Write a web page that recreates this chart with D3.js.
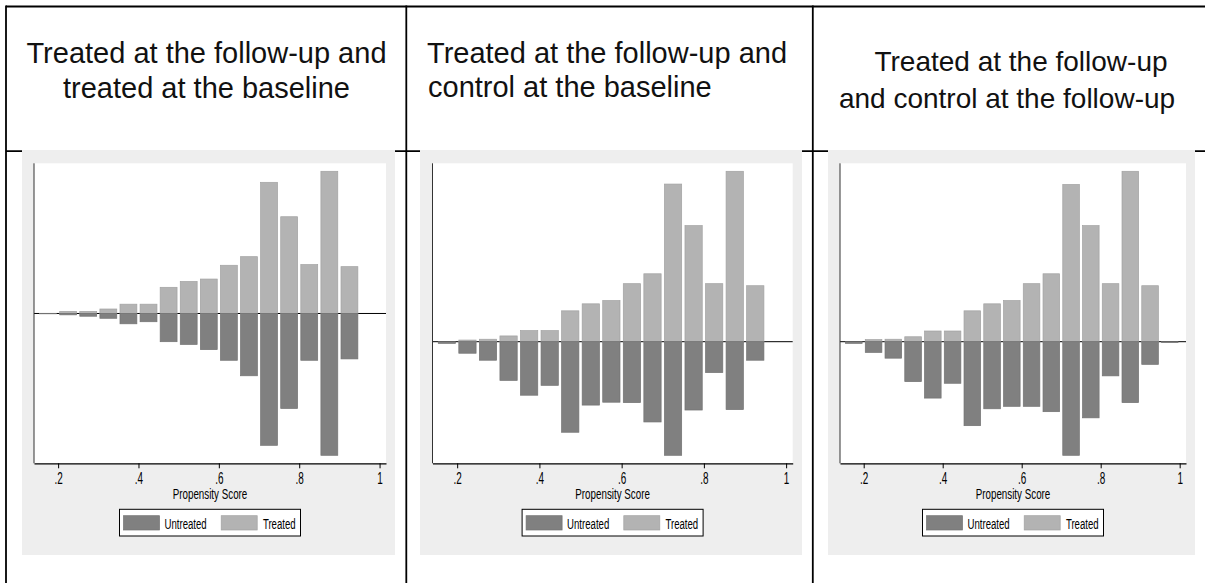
<!DOCTYPE html>
<html>
<head>
<meta charset="utf-8">
<script src="https://cdn.jsdelivr.net/npm/d3@7"></script>
<style>
  body { margin: 0; background: #fff; }
  svg { display: block; font-family: "Liberation Sans", Arial, sans-serif; }
</style>
</head>
<body>
<div id="chart"></div>
<script>
// bin centres of the propensity score histograms (width .05)
const binsAB = [0.175, 0.225, 0.275, 0.325, 0.375, 0.425, 0.475, 0.525, 0.575, 0.625, 0.675, 0.725, 0.775, 0.825, 0.875, 0.925];
const binsC = [0.175, 0.225, 0.275, 0.325, 0.375, 0.425, 0.475, 0.525, 0.575, 0.625, 0.675, 0.725, 0.775, 0.825, 0.875, 0.925, 0.975];

// densities
const treatedA   = [0, 0.06, 0.06, 0.13, 0.27, 0.27, 0.76, 0.93, 1.00, 1.40, 1.65, 3.81, 2.81, 1.42, 4.13, 1.36];
const untreatedA = [0.01, 0.04, 0.08, 0.14, 0.30, 0.24, 0.82, 0.90, 1.05, 1.36, 1.81, 3.83, 2.76, 1.36, 4.12, 1.32];

const treatedB   = [0, 0.04, 0.06, 0.14, 0.27, 0.27, 0.75, 0.92, 1.00, 1.41, 1.65, 3.83, 2.82, 1.41, 4.14, 1.36];
const untreatedB = [0.04, 0.28, 0.45, 0.94, 1.30, 1.06, 2.20, 1.54, 1.47, 1.48, 1.95, 2.76, 1.66, 0.75, 1.65, 0.45];

const treatedC   = [0, 0.05, 0.06, 0.12, 0.26, 0.26, 0.75, 0.92, 1.00, 1.41, 1.65, 3.82, 2.82, 1.41, 4.14, 1.36, 0];
const untreatedC = [0.04, 0.26, 0.40, 0.97, 1.37, 1.01, 2.04, 1.63, 1.57, 1.57, 1.70, 2.76, 1.85, 0.83, 1.48, 0.55, 0.02];

const xTicks = [0.2, 0.4, 0.6, 0.8, 1];
const xTickLabels = [".2", ".4", ".6", ".8", "1"];
const xTitle = "Propensity Score";
const legendLabels = ["Untreated", "Treated"];

const titleA = ["Treated at the follow-up and", "treated at the baseline"];
const titleB = ["Treated at the follow-up and", "control at the baseline"];
const titleC = ["Treated at the follow-up", "and control at the follow-up"];

const colTreated = "#b3b3b3", colUntreated = "#808080";
const W = 1205, H = 583;

const svg = d3.select("#chart").append("svg")
    .attr("width", W)
    .attr("height", H);

// layout of the three cells
const panels = [
  {title: titleA, anchor: "middle", tx: [206.5, 206.5], ty: [63, 98], fs: 29,
   bg: [22, 395], plot: [34, 386], bins: binsAB, treated: treatedA, untreated: untreatedA},
  {title: titleB, anchor: "start", tx: [427, 428], ty: [63, 97], fs: 29,
   bg: [420, 802], plot: [432.5, 792.7], bins: binsAB, treated: treatedB, untreated: untreatedB},
  {title: titleC, anchor: "middle", tx: [1021, 1007], ty: [70.5, 107.5], fs: 28,
   bg: [828, 1195], plot: [840, 1186], bins: binsC, treated: treatedC, untreated: untreatedC}
];

const bgTop = 150, bgBottom = 555;
const plotTop = 163.3, plotBottom = 463.3, pad = 8;
const barW = 0.042;

// table rules
const rules = svg.append("g").attr("stroke", "#000").attr("stroke-width", 1.8);
rules.append("line").attr("x1", 6).attr("x2", W).attr("y1", 6.5).attr("y2", 6.5);
rules.append("line").attr("x1", 6).attr("x2", W).attr("y1", 151.2).attr("y2", 151.2);
[6, 406.3, 812.8].forEach(x => {
  rules.append("line").attr("x1", x).attr("x2", x).attr("y1", 5.6).attr("y2", H);
});

// small compressed text, like the Stata export
function smallText(g, x, y, txt, anchor, size, sx) {
  return g.append("text")
    .attr("transform", `translate(${x},${y}) scale(${sx || 0.7},1)`)
    .attr("text-anchor", anchor || "middle")
    .attr("font-size", size || 14)
    .attr("fill", "#000")
    .text(txt);
}

panels.forEach(p => {
  // cell title
  p.title.forEach((t, i) => {
    svg.append("text")
      .attr("x", p.tx[i])
      .attr("y", p.ty[i])
      .attr("text-anchor", p.anchor)
      .attr("font-size", p.fs)
      .attr("fill", "#111")
      .text(t);
  });

  // graph region
  svg.append("rect")
    .attr("x", p.bg[0]).attr("y", bgTop)
    .attr("width", p.bg[1] - p.bg[0]).attr("height", bgBottom - bgTop)
    .attr("fill", "#eeeeee");
  svg.append("rect")
    .attr("x", p.plot[0]).attr("y", plotTop)
    .attr("width", p.plot[1] - p.plot[0]).attr("height", plotBottom - plotTop)
    .attr("fill", "#ffffff");

  const x = d3.scaleLinear()
    .domain([0.14, 1.016])
    .range([p.plot[0], p.plot[1]]);
  const y = d3.scaleLinear()
    .domain([-d3.max(p.untreated), d3.max(p.treated)])
    .range([plotBottom - pad, plotTop + pad]);

  const g = svg.append("g");

  // zero line
  g.append("line")
    .attr("x1", p.plot[0]).attr("x2", p.plot[1])
    .attr("y1", y(0)).attr("y2", y(0))
    .attr("stroke", "#000").attr("stroke-width", 1);

  const data = p.bins.map((b, i) => ({bin: b, t: p.treated[i], u: p.untreated[i]}));

  // treated bars go up
  g.append("g")
    .selectAll("rect")
    .data(data)
    .join("rect")
      .attr("x", d => x(d.bin - barW / 2))
      .attr("width", d => x(d.bin + barW / 2) - x(d.bin - barW / 2))
      .attr("y", d => y(d.t))
      .attr("height", d => y(0) - y(d.t))
      .attr("fill", colTreated)
      .attr("stroke", "#a2a2a2")
      .attr("stroke-width", 0.7);

  // untreated bars go down
  g.append("g")
    .selectAll("rect")
    .data(data)
    .join("rect")
      .attr("x", d => x(d.bin - barW / 2))
      .attr("width", d => x(d.bin + barW / 2) - x(d.bin - barW / 2))
      .attr("y", y(0))
      .attr("height", d => y(-d.u) - y(0))
      .attr("fill", colUntreated)
      .attr("stroke", "#727272")
      .attr("stroke-width", 0.7);

  // y axis (no labels)
  g.append("line")
    .attr("x1", p.plot[0]).attr("x2", p.plot[0])
    .attr("y1", plotTop).attr("y2", plotBottom)
    .attr("stroke", "#333").attr("stroke-width", 1);

  // x axis
  const ax = g.append("g")
    .attr("transform", `translate(0,${plotBottom})`)
    .call(d3.axisBottom(x)
      .tickValues(xTicks)
      .tickFormat((d, i) => xTickLabels[i])
      .tickSize(5)
      .tickSizeOuter(0));
  ax.select(".domain").attr("stroke", "#000").attr("stroke-width", 1.3);
  ax.selectAll(".tick line").attr("stroke", "#000").attr("stroke-width", 1);
  ax.selectAll(".tick text")
    .attr("y", 21).attr("dy", null)
    .attr("font-family", "Liberation Sans, Arial, sans-serif")
    .attr("font-size", 16)
    .attr("fill", "#000")
    .attr("transform", "scale(0.62,1)");

  const cx = (p.plot[0] + p.plot[1]) / 2;
  smallText(g, cx, 499, xTitle, "middle", 14, 0.7);

  // legend
  const lx = cx - 90.5, ly = 509.3;
  const lg = g.append("g");
  lg.append("rect")
    .attr("x", lx).attr("y", ly).attr("width", 181).attr("height", 26.7)
    .attr("fill", "#fff").attr("stroke", "#000").attr("stroke-width", 1);
  lg.selectAll("rect.sw")
    .data(legendLabels)
    .join("rect")
      .attr("class", "sw")
      .attr("x", (d, i) => lx + 4 + i * 97.7)
      .attr("y", ly + 6.4)
      .attr("width", 36).attr("height", 14.3)
      .attr("fill", (d, i) => i === 0 ? colUntreated : colTreated)
      .attr("stroke", (d, i) => i === 0 ? "#727272" : "#a2a2a2")
      .attr("stroke-width", 0.7);
  legendLabels.forEach((d, i) => {
    smallText(lg, lx + 45 + i * 98.4, ly + 19.3, d, "start", 15.5, 0.62);
  });
});
</script>
</body>
</html>
